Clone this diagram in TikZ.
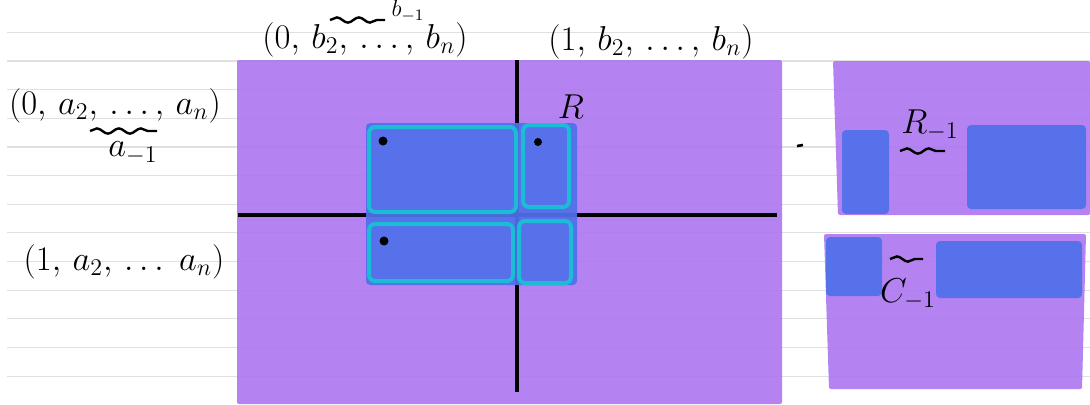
\documentclass[tikz,border=0pt]{standalone}
\usepackage{amsmath}
\usepackage{tikz}
\usetikzlibrary{positioning,decorations.pathmorphing}
\definecolor{NotePurple}{RGB}{175,123,240}
\definecolor{NoteBlue}{RGB}{80,112,234}
\definecolor{NoteCyan}{RGB}{26,188,214}
\definecolor{RuleGray}{RGB}{224,224,224}

\begin{document}
\begin{tikzpicture}[x=0.5pt, y=-0.5pt,
  rule/.style={RuleGray, line width=0.6pt},
  sheet/.style={fill=NotePurple, fill opacity=0.94, rounded corners=1pt},
  patch/.style={fill=NoteBlue, fill opacity=0.93, rounded corners=2pt},
  cell/.style={draw=NoteCyan, line width=2pt, rounded corners=3pt},
  axis/.style={line width=1.8pt, black},
  ink/.style={font=\LARGE, inner sep=0pt},
  squiggle/.style={decorate, decoration={snake, amplitude=1.3pt, segment length=11pt}, line width=1.2pt},
  dot/.style={circle, fill=black, inner sep=0pt, minimum size=4.5pt}
]
\useasboundingbox (0,0) rectangle (1090,404);

% ruled paper
\foreach \r in {0,...,12}
  \draw[rule] (7,{32.3+28.65*\r}) -- (1090,{32.3+28.65*\r});

% big sheet with the axes
\fill[sheet] (237,60) rectangle (782,404);
\draw[axis] (517,60) -- (517,392);
\draw[axis] (238,215) -- (777,215);

% blue block and the four cells
\fill[patch] (366,123) rectangle (577,285);
\draw[cell] (369,127) rectangle (516,212);
\draw[cell] (523,125) rectangle (569,207);
\draw[cell] (369,224) rectangle (513,281);
\draw[cell] (519,221) rectangle (571,283);
\node[dot] (d1) at (383,141) {};
\node[dot, minimum size=4pt] (d2) at (538,142) {};
\node[dot] (d3) at (384,241) {};
\node[ink] (R) at (571,107) {$R$};

% labels round the sheet
\node[ink] (b0) at (365,40) {$(0,\,b_2,\,\ldots,\,b_n)$};
\node[ink] (b1) at (651,42) {$(1,\,b_2,\,\ldots,\,b_n)$};
\draw[squiggle] (330,20) -- (385,20);
\node[ink, font=\large] (bm) at (408,11) {$b_{-1}$};
\node[ink] (a0) at (115,106) {$(0,\,a_2,\,\ldots,\,a_n)$};
\draw[squiggle] (90,131) -- (157,131);
\node[ink] (am) at (133,153) {$a_{-1}$};
\node[ink] (a1) at (124,262) {$(1,\,a_2,\,\ldots\;a_n)$};
\draw[line width=1.3pt] (797,146) -- (803,145);

% upper right sheet
\fill[sheet] (833,61) -- (1090,61) -- (1090,215) -- (838,215) -- cycle;
\fill[patch] (842,130) rectangle (889,214);
\fill[patch] (967,125) rectangle (1086,209);
\node[ink] (Rm) at (930,125) {$R_{-1}$};
\draw[squiggle] (900,151) -- (945,151);

% lower right sheet
\fill[sheet] (824,234) -- (1086,234) -- (1082,389) -- (829,389) -- cycle;
\fill[patch] (826,237) rectangle (882,296);
\fill[patch] (936,241) rectangle (1082,298);
\draw[squiggle] (890,259) -- (923,259);
\node[ink] (Cm) at (908,294) {$C_{-1}$};
\end{tikzpicture}
\end{document}
